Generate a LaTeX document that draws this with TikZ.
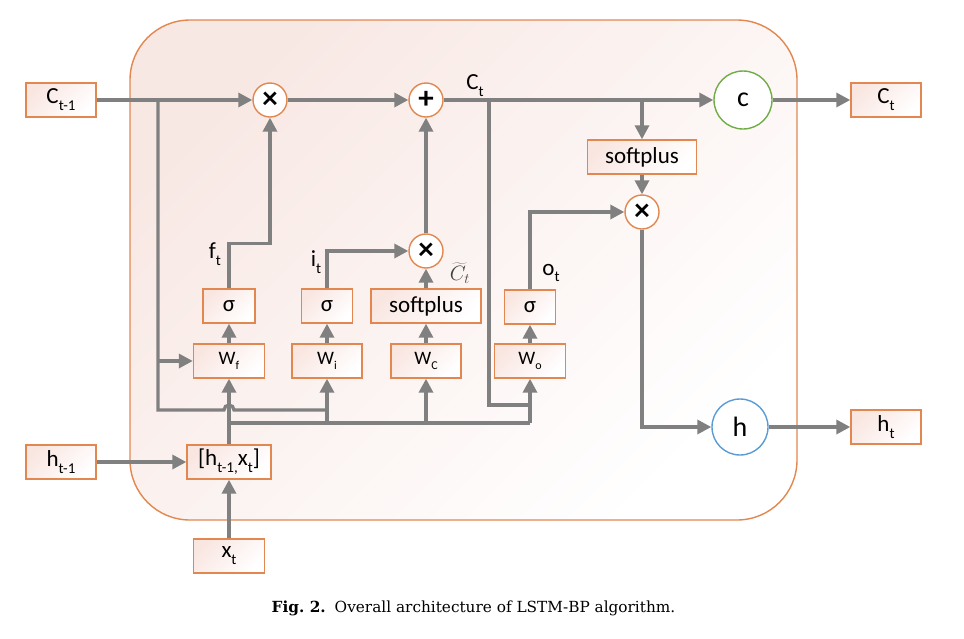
\documentclass[tikz,border=0pt]{standalone}
\usepackage{fontspec}
\setmainfont{Carlito}
\newfontfamily\capfont{DejaVu Serif}
\usetikzlibrary{arrows.meta}
\definecolor{lgray}{RGB}{128,128,128}
\definecolor{orng}{RGB}{226,135,80}
\definecolor{pinkf}{RGB}{249,230,225}
\definecolor{pinkb}{RGB}{248,232,228}
\definecolor{cgreen}{RGB}{112,173,71}
\definecolor{hblue}{RGB}{91,155,213}
\newcommand\fmain{\fontsize{23}{26}\selectfont}
\newcommand\fw{\fontsize{19}{22}\selectfont}
\newcommand\sbs[1]{\raisebox{-0.3em}{\fontsize{15}{15}\selectfont #1}}
\newcommand\sbw[1]{\raisebox{-0.3em}{\fontsize{12}{12}\selectfont #1}}
\tikzset{
  gl/.style={draw=lgray, line width=3.3pt},
  ga/.style={gl, -{Triangle[length=14pt,width=14pt]}},
  box/.style={draw=orng, line width=1.4pt, top color=pinkf, bottom color=white, shading angle=45,
    minimum height=34pt, inner sep=0pt, font=\fmain},
  opc/.style={circle, draw=orng, line width=1.4pt, fill=white, minimum size=34pt, inner sep=0pt,
    font=\fontsize{31}{31}\selectfont\bfseries},
  lbl/.style={inner sep=0pt, font=\fmain},
}
\begin{document}
\begin{tikzpicture}[x=1pt,y=-1pt]
\useasboundingbox (0,0) rectangle (964,638);
% outer cell
\path[draw=orng, line width=1.4pt, rounded corners=60pt, top color=pinkb, bottom color=white, shading angle=45]
  (130,20) rectangle (797,520);

% nodes
\node[box, minimum width=70pt] (cprev) at (61,100) {C\sbs{t-1}};
\node[opc] (mulf) at (270,100) {×};
\node[opc] (add) at (426,100) {+};
\node[circle, draw=cgreen, line width=1.4pt, fill=white, minimum size=58pt, inner sep=0pt, font=\fontsize{28}{28}\selectfont] (cnode) at (743,100) {c};
\node[box, minimum width=70pt] (cout) at (886,100) {C\sbs{t}};
\node[box, minimum width=109pt] (sp1) at (642,157) {softplus};
\node[opc] (mulo) at (642,212) {×};
\node[circle, draw=hblue, line width=1.4pt, fill=white, minimum size=56pt, inner sep=0pt, font=\fontsize{28}{28}\selectfont] (hnode) at (740,427) {h};
\node[box, minimum width=70pt] (hout) at (886,427) {h\sbs{t}};

\node[box, minimum width=52pt] (sigf) at (229,306) {σ};
\node[box, minimum width=71pt, font=\fw] (Wf) at (229,361) {W\sbw{f}};
\node[box, minimum width=51pt] (sigi) at (327,306) {σ};
\node[box, minimum width=70pt, font=\fw] (Wi) at (327,361) {W\sbw{i}};
\node[opc] (muli) at (426,251) {×};
\node[box, minimum width=110pt] (spc) at (426,306) {softplus};
\node[box, minimum width=70pt, font=\fw] (Wc) at (426,361) {W\sbw{C}};
\node[box, minimum width=51pt] (sigo) at (530,307) {σ};
\node[box, minimum width=71pt, font=\fw] (Wo) at (530,361) {W\sbw{o}};

\node[box, minimum width=70pt] (hprev) at (61,462) {h\sbs{t-1}};
\node[box, minimum width=84pt] (cat) at (229,462) {[h\sbs{t-1,}x\sbs{t}]};
\node[box, minimum width=71pt] (xt) at (229,556) {x\sbs{t}};

% labels
\node[lbl] (lf) at (215,254) {f\sbs{t}};
\node[lbl] (li) at (316,262) {i\sbs{t}};
\node[lbl] (lo) at (551,273) {o\sbs{t}};
\node[lbl] (lc) at (475,86) {C\sbs{t}};
\node[inner sep=0pt, text=black!75, font=\fontsize{21}{21}\selectfont] (lct) at (460,273) {$\widetilde{C}_t$};

% junction coordinates
\coordinate (jC) at (158,100);
\coordinate (jCb) at (158,410);
\coordinate (hopL) at (224,410);
\coordinate (jT) at (489,100);
\coordinate (jTb) at (489,405);
\coordinate (bus) at (229,423);

% cell state line
\draw[ga] (cprev.east) -- (mulf.west);
\draw[ga] (mulf.east) -- (add.west);
\draw[ga] (add.east) -- (cnode.west);
\draw[ga] (cnode.east) -- (cout.west);
\draw[ga] (sp1.north |- add.east) -- (sp1.north);
\draw[ga] (sp1.south) -- (mulo.north);
\draw[ga] (mulo.south) |- (hnode.west);
\draw[ga] (hnode.east) -- (hout.west);

% C_{t-1} branch
\draw[gl] (jC) -- (jCb) -- (hopL) arc[start angle=180, end angle=0, radius=5pt] -- (Wi.south |- jCb);
\draw[ga] (jC |- Wf.west) -- (Wf.west);

% C_t branch to W_o
\draw[gl] (jT) -- (jTb) -- (Wo.south |- jTb);

% gates
\draw[ga] (sigf.north) -- ++(0,-45) -| (mulf.south);
\draw[ga] (sigi.north) |- (muli.west);
\draw[ga] (spc.north) -- (muli.south);
\draw[ga] (muli.north) -- (add.south);
\draw[ga] (sigo.north) |- (mulo.west);
\draw[ga] (Wf.north) -- (sigf.south);
\draw[ga] (Wi.north) -- (sigi.south);
\draw[ga] (Wc.north) -- (spc.south);
\draw[ga] (Wo.north) -- (sigo.south);

% inputs
\draw[ga] (hprev.east) -- (cat.west);
\draw[ga] (xt.north) -- (cat.south);
\draw[ga] (cat.north) -- (Wf.south);
\draw[gl] (bus) -- (Wo.south |- bus);
\draw[ga] (Wo.south |- bus) -- (Wo.south);
\draw[ga] (Wi.south |- bus) -- (Wi.south);
\draw[ga] (Wc.south |- bus) -- (Wc.south);

% caption
\node[font=\capfont\fontsize{15.3}{18}\selectfont, inner sep=0pt] (cap) at (473.5,608)
  {\textbf{Fig.~2.}\hspace{9pt}Overall architecture of LSTM-BP algorithm.};
\end{tikzpicture}
\end{document}
